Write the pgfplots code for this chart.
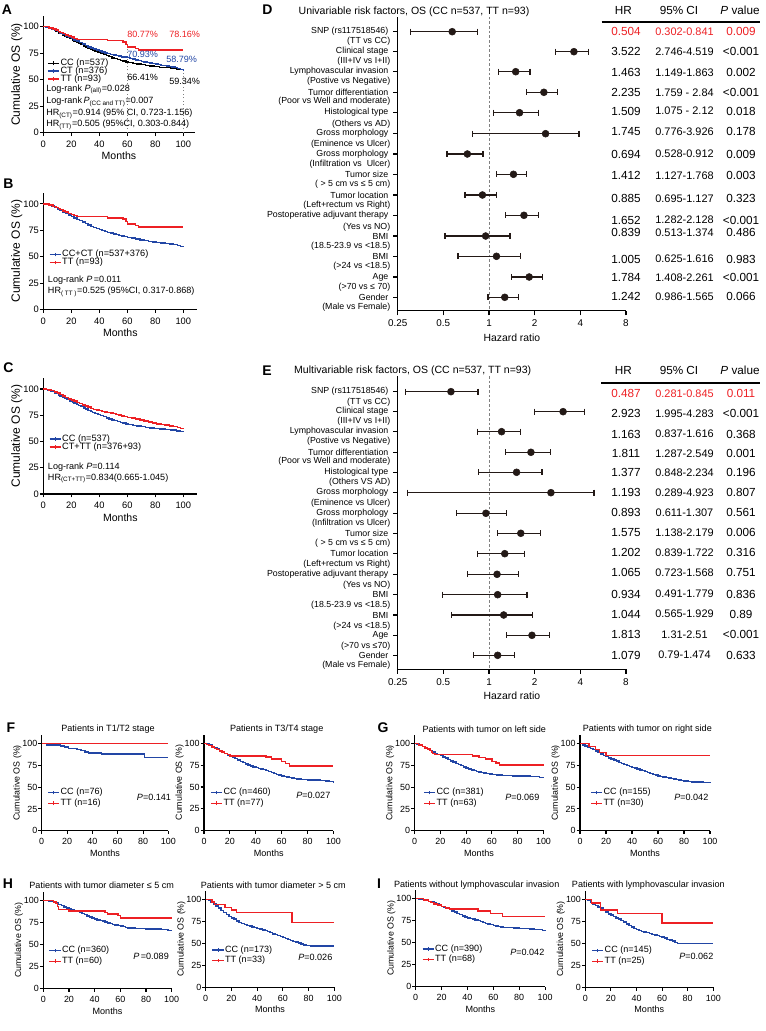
\documentclass[border=0pt]{standalone}
\usepackage{fontspec}
\setmainfont{Liberation Sans}
\usepackage{pgfplots}
\pgfplotsset{compat=1.18}
\definecolor{kmred}{RGB}{237,32,36}
\definecolor{kmblue}{RGB}{34,70,165}
\definecolor{fblack}{RGB}{35,25,22}
\newcommand\fs[1]{\fontsize{#1}{#1}\selectfont}
\pgfplotsset{
 kmbase/.style={anchor=south west, scale only axis, clip=false,
  axis x line*=bottom, axis y line*=left, axis line style={line width=0.9pt,-},
  every tick/.style={black, line width=0.8pt}, tick align=outside, major tick length=2.5pt,
  xmin=0, ymin=0, xtick={0,20,40,60,80,100}, ytick={0,25,50,75,100},
  /pgf/number format/assume math mode=true,
  xlabel={Months}, ylabel={Cumulative OS (\%)}, xlabel near ticks, ylabel near ticks,
  xlabel style={inner sep=0pt}, ylabel style={inner sep=0pt},
  yticklabel style={inner xsep=0.6pt},
  legend cell align=left,
  legend style={draw=none, fill=none, inner sep=0pt, nodes={inner sep=0.4pt}},
  legend image code/.code={\draw[#1] (0cm,0cm) -- (0.3cm,0cm); \draw[#1, line width=0.5pt] (0.15cm,-1.4pt) -- (0.15cm,1.4pt);}},
 kmA/.style={kmbase, ticklabel style={font=\fs{7}}, xlabel style={font=\fs{7.9}}, ylabel style={font=\fs{9}}, legend style={font=\fs{6.9}, row sep=-1.3pt}},
 kmF/.style={kmbase, xmax=100, ymax=110, ticklabel style={font=\fs{6.7}}, xlabel style={font=\fs{6.8}}, ylabel style={font=\fs{6.6}}, legend style={font=\fs{6.8}, row sep=0.8pt}},
 cb/.style={kmblue, line width=1.1pt, const plot},
 cr/.style={kmred, line width=1.1pt, const plot},
 ck/.style={black, line width=1pt, const plot},
 forestax/.style={anchor=south west, scale only axis, clip=false,
  xmin=0.25, xmax=8, width=171.2pt,
  axis x line*=bottom, axis y line*=left, axis line style={line width=0.9pt,-},
  every tick/.style={black, line width=0.8pt}, tick align=outside, major tick length=3.5pt,
  xtick={0.25,0.5,1,2,4,8}, xticklabels={0.25,0.5,1,2,4,8}, xminorticks=false,
  xticklabel style={font=\fs{7.4}}, yticklabel style={font=\fs{6.6}},
  xlabel={Hazard ratio}, xlabel near ticks, xlabel style={font=\fs{7.8}, inner sep=0pt, yshift=-1.3pt}},
 cistyle/.style={fblack, line width=0.9pt, mark=|, mark size=2.3pt, unbounded coords=jump, mark options={solid, line width=0.9pt}},
 ptstyle/.style={fblack, only marks, mark=*, mark size=2.6pt},
 refstyle/.style={gray, line width=0.7pt, dash pattern=on 2pt off 1.5pt},
}
\begin{document}
\begin{tikzpicture}[x=0.75pt,y=-0.75pt]
\path[use as bounding box] (0,0) rectangle (766,1031);
\coordinate (pA) at (43.3,132.7);
\coordinate (pB) at (43.3,309.5);
\coordinate (pC) at (43.3,494);
\coordinate (pD) at (397.7,310.7);
\coordinate (pE) at (397.7,669.3);
\coordinate (pF1) at (41.7,830.7);
\coordinate (pF2) at (204,830.5);
\coordinate (pG1) at (414.5,830.7);
\coordinate (pG2) at (580,830.7);
\coordinate (pH1) at (43.3,988.5);
\coordinate (pH2) at (205.7,987.3);
\coordinate (pI1) at (415.7,986.7);
\coordinate (pI2) at (585.3,987.3);

% ---------------- A
\begin{axis}[kmA, at={(pA)}, width=113.4pt, height=87.45pt, xmax=108, ymax=110,
  legend style={at={(0.024,0.64)}, anchor=north west}]
\addplot[gray, dotted, line width=0.6pt, forget plot] coordinates {(60,0) (60,80)};
\addplot[gray, dotted, line width=0.6pt, forget plot] coordinates {(100,0) (100,62)};
\addplot[ck] coordinates {(0,100) (2,99.6) (3,99) (5,98.2) (6,97.6) (8,96.3) (9,95.5) (11,94.2) (12,93.4) (14,92) (15,91) (17,89.8) (19,88.6) (21,87.6) (22,86.6) (24,85.5) (25,84.4) (27,83.2) (29,81.8) (30,80.8) (32,79.6) (34,78.4) (35,77.6) (37,76.6) (39,75.6) (41,74.6) (43,73.6) (45,72.6) (47,71.6) (49,70.6) (51,69.8) (53,69) (55,68.3) (57,67.5) (59,66.8) (61,66.2) (64,65.5) (67,64.8) (70,64.1) (73,63.5) (76,62.8) (79,62.3) (83,61.8) (87,61.3) (91,60.8) (95,60.2) (98,59.6) (100,59.3)};
\addlegendentry{CC (n=537)}
\addplot[cb] coordinates {(0,100) (2,99.7) (4,99) (6,98) (8,96.8) (10,95.4) (12,94) (14,92.6) (16,91.2) (18,90) (20,88.8) (22,87.6) (24,86.4) (26,85) (28,83.6) (30,82.3) (32,81) (34,79.8) (36,78.8) (38,77.8) (40,76.9) (42,76) (44,75.3) (46,74.6) (48,74) (50,73.4) (52,72.8) (54,72.2) (56,71.6) (58,71.2) (60,70.9) (62,70.2) (64,69.5) (66,68.8) (68,68) (70,67.4) (72,66.8) (74,66.2) (76,65.6) (78,65.1) (80,64.6) (82,64.1) (84,63.6) (86,63.2) (88,62.8) (90,62.4) (92,62) (94,61.4) (96,60.6) (98,59.6) (100,58.8)};
\addlegendentry{CT (n=376)}
\addplot[cr] coordinates {(0,100) (4,98.9) (7,97.8) (9,96.7) (11,95.6) (12,94.5) (14,93.4) (16,92.3) (18,91.2) (20,90.1) (22,89) (24,87.9) (46,86.8) (57,85.6) (59,83.2) (60,80.8) (66,79.5) (68,78.2) (100,78.2)};
\addlegendentry{TT (n=93)}
\end{axis}

% ---------------- B
\begin{axis}[kmA, at={(pB)}, width=115.5pt, height=87.4pt, xmax=110, ymax=110.4,
  legend style={at={(0.034,0.515)}, anchor=north west}]
\addplot[cb] coordinates {(0,100) (2,99.6) (4,98.9) (6,97.9) (8,96.6) (10,95.2) (12,93.8) (14,92.3) (16,90.9) (18,89.5) (20,88.1) (22,86.8) (24,85.5) (26,84.2) (28,82.8) (30,81.4) (32,80.1) (34,78.8) (36,77.7) (38,76.6) (40,75.6) (42,74.7) (44,73.9) (46,73.1) (48,72.4) (50,71.7) (52,71) (54,70.3) (56,69.6) (58,69) (60,68.4) (63,67.6) (66,66.8) (69,66) (72,65.2) (75,64.5) (78,63.9) (81,63.3) (84,62.8) (87,62.3) (90,61.9) (93,61.4) (96,60.5) (98,59.7) (100,58.9)};
\addlegendentry{CC+CT (n=537+376)}
\addplot[cr] coordinates {(0,100) (4,98.9) (7,97.8) (9,96.7) (11,95.6) (12,94.5) (14,93.4) (16,92.3) (18,91.2) (20,90.1) (22,89) (24,87.9) (46,86.8) (57,85.6) (59,83.2) (60,80.8) (66,79.5) (68,78.2) (100,78.2)};
\addlegendentry{TT (n=93)}
\end{axis}

% ---------------- C
\begin{axis}[kmA, at={(pC)}, width=115.5pt, height=87pt, xmax=110, ymax=110.5,
  legend style={at={(0.034,0.517)}, anchor=north west}]
\addplot[cb] coordinates {(0,100) (2,99.6) (3,99) (5,98.2) (6,97.6) (8,96.3) (9,95.5) (11,94.2) (12,93.4) (14,92) (15,91) (17,89.8) (19,88.6) (21,87.6) (22,86.6) (24,85.5) (25,84.4) (27,83.2) (29,81.8) (30,80.8) (32,79.6) (34,78.4) (35,77.6) (37,76.6) (39,75.6) (41,74.6) (43,73.6) (45,72.6) (47,71.6) (49,70.6) (51,69.8) (53,69) (55,68.3) (57,67.5) (59,66.8) (61,66.2) (64,65.5) (67,64.8) (70,64.1) (73,63.5) (76,62.8) (79,62.3) (83,61.8) (87,61.3) (91,60.8) (95,60.2) (98,59.6) (100,59.3)};
\addlegendentry{CC (n=537)}
\addplot[cr] coordinates {(0,100) (2,99.7) (4,99.2) (6,98.4) (8,97.3) (10,96) (12,94.6) (14,93.2) (16,91.9) (18,90.7) (20,89.6) (22,88.4) (24,87.3) (26,86.1) (28,84.9) (30,83.8) (32,82.7) (34,81.6) (36,80.7) (38,80) (40,79.4) (42,78.8) (44,78.3) (46,77.8) (48,77.2) (50,76.6) (52,75.9) (54,75.2) (56,74.5) (58,73.8) (60,73.1) (63,72.2) (66,71.3) (69,70.4) (72,69.5) (75,68.6) (78,67.7) (81,66.9) (84,66.2) (87,65.6) (90,65) (93,64.5) (96,63.6) (98,62.6) (100,61.8)};
\addlegendentry{CT+TT (n=376+93)}
\end{axis}

% ---------------- D forest
\begin{axis}[forestax, xmode=log, log basis x=2, at={(pD)}, height=220.5pt, ymin=-310.7, ymax=-16.7,
  ytick={-31.7,-51.7,-71.7,-92.3,-112.7,-133.7,-154,-174.3,-195,-215.3,-236,-256.3,-277,-297.3},
  yticklabels={{SNP (rs117518546)},{Clinical stage},{Lymphovascular invasion},{Tumor differentiation},{Histological type},{Gross morphology},{Gross morphology},{Tumor size},{Tumor location},{Postoperative adjuvant therapy},{BMI},{BMI},{Age},{Gender}}]
\addplot[refstyle] coordinates {(1,-16.7) (1,-310.7)};
\addplot[cistyle] coordinates {(0.302,-31.7) (0.841,-31.7) (1,nan) (2.746,-51.7) (4.519,-51.7) (1,nan) (1.149,-71.7) (1.863,-71.7) (1,nan) (1.759,-92.3) (2.84,-92.3) (1,nan) (1.075,-112.7) (2.12,-112.7) (1,nan) (0.776,-133.7) (3.926,-133.7) (1,nan) (0.528,-154) (0.912,-154) (1,nan) (1.127,-174.3) (1.768,-174.3) (1,nan) (0.695,-195) (1.127,-195) (1,nan) (1.282,-215.3) (2.128,-215.3) (1,nan) (0.513,-236) (1.374,-236) (1,nan) (0.625,-256.3) (1.616,-256.3) (1,nan) (1.408,-277) (2.261,-277) (1,nan) (0.986,-297.3) (1.565,-297.3)};
\addplot[ptstyle] coordinates {(0.572,-31.7) (3.63,-51.7) (1.50,-71.7) (2.30,-92.3) (1.59,-112.7) (2.36,-133.7) (0.72,-154) (1.45,-174.3) (0.905,-195) (1.70,-215.3) (0.95,-236) (1.12,-256.3) (1.84,-277) (1.27,-297.3)};
\end{axis}

% ---------------- E forest
\begin{axis}[forestax, xmode=log, log basis x=2, at={(pE)}, height=220pt, ymin=-669.3, ymax=-376,
  ytick={-391.7,-411.7,-431.7,-452.3,-472.3,-492.7,-513.3,-533.3,-553.7,-574.3,-594.7,-615,-635.3,-655.3},
  yticklabels={{SNP (rs117518546)},{Clinical stage},{Lymphovascular invasion},{Tumor differentiation},{Histological type},{Gross morphology},{Gross morphology},{Tumor size},{Tumor location},{Postoperative adjuvant therapy},{BMI},{BMI},{Age},{Gender}}]
\addplot[refstyle] coordinates {(1,-376) (1,-669.3)};
\addplot[cistyle] coordinates {(0.281,-391.7) (0.845,-391.7) (1,nan) (1.995,-411.7) (4.283,-411.7) (1,nan) (0.837,-431.7) (1.616,-431.7) (1,nan) (1.287,-452.3) (2.549,-452.3) (1,nan) (0.848,-472.3) (2.234,-472.3) (1,nan) (0.289,-492.7) (4.923,-492.7) (1,nan) (0.611,-513.3) (1.307,-513.3) (1,nan) (1.138,-533.3) (2.179,-533.3) (1,nan) (0.839,-553.7) (1.722,-553.7) (1,nan) (0.723,-574.3) (1.568,-574.3) (1,nan) (0.491,-594.7) (1.779,-594.7) (1,nan) (0.565,-615) (1.929,-615) (1,nan) (1.31,-635.3) (2.51,-635.3) (1,nan) (0.79,-655.3) (1.474,-655.3)};
\addplot[ptstyle] coordinates {(0.561,-391.7) (3.08,-411.7) (1.21,-431.7) (1.89,-452.3) (1.52,-472.3) (2.56,-492.7) (0.954,-513.3) (1.62,-533.3) (1.27,-553.7) (1.13,-574.3) (1.14,-594.7) (1.25,-615) (1.92,-635.3) (1.14,-655.3)};
\end{axis}

% ---------------- F1
\begin{axis}[kmF, at={(pF1)}, width=95pt, height=71.8pt,
  legend style={at={(0.042,0.451)}, anchor=north west}]
\addplot[cb] coordinates {(0,100) (4,98.7) (15,97.4) (18,96) (21,94.7) (28,93.4) (31,92) (34,90.6) (37,89.4) (47,88.2) (81,84.3) (100,84.3)};
\addlegendentry{CC (n=76)}
\addplot[cr] coordinates {(0,100) (100,100)};
\addlegendentry{TT (n=16)}
\end{axis}

% ---------------- F2
\begin{axis}[kmF, at={(pF2)}, width=97.1pt, height=71.8pt,
  legend style={at={(0.046,0.449)}, anchor=north west}]
\addplot[cb] coordinates {(0,100) (2,99.2) (4,98) (6,96.6) (8,95) (10,93.4) (12,91.6) (14,90) (16,88.5) (18,87) (20,85.6) (22,84.2) (24,82.6) (26,81) (28,79.4) (30,78) (32,76.6) (34,75.3) (36,74.2) (38,73.2) (40,72.3) (42,71.5) (44,70.8) (46,70) (48,69) (50,67.8) (52,66.6) (54,65.5) (56,64.5) (58,63.6) (60,62.8) (62,62) (64,61.3) (66,60.7) (68,60.2) (70,59.6) (72,59) (75,58.4) (80,58) (85,57.8) (90,57.5) (94,57) (97,56.3) (100,55.5)};
\addlegendentry{CC (n=460)}
\addplot[cr] coordinates {(0,100) (2,99) (4,97.5) (6,96) (8,94.5) (10,93) (12,91.5) (14,90) (16,88.6) (18,87.2) (20,85.7) (48,84.4) (52,82) (60,79.5) (63,77) (66,74) (100,74)};
\addlegendentry{TT (n=77)}
\end{axis}

% ---------------- G1
\begin{axis}[kmF, at={(pG1)}, width=96.75pt, height=71.8pt,
  legend style={at={(0.066,0.451)}, anchor=north west}]
\addplot[cb] coordinates {(0,100) (2,99.5) (4,98.2) (6,96.8) (8,95.2) (10,93.6) (12,92) (14,90.5) (16,89) (18,87.6) (20,86.2) (22,84.8) (24,83.3) (26,81.8) (28,80.3) (30,78.8) (32,77.4) (34,76) (36,74.7) (38,73.4) (40,72.2) (42,71) (44,70) (46,69.1) (48,68.3) (50,67.6) (52,66.9) (54,66.3) (56,65.7) (58,65.1) (60,64.6) (64,64.1) (68,63.7) (72,63.4) (76,63.1) (80,62.9) (85,62.6) (90,62.3) (94,62) (97,61.3) (100,60.5)};
\addlegendentry{CC (n=381)}
\addplot[cr] coordinates {(0,100) (3,98.4) (6,96.8) (8,95.2) (10,93.7) (12,92.1) (13,90.5) (14,88.9) (16,87.3) (45,85.7) (50,84.1) (55,82.5) (60,79.3) (63,77.7) (66,75.3) (100,75.3)};
\addlegendentry{TT (n=63)}
\end{axis}

% ---------------- G2
\begin{axis}[kmF, at={(pG2)}, width=97.5pt, height=71.8pt,
  legend style={at={(0.077,0.451)}, anchor=north west}]
\addplot[cb] coordinates {(0,100) (2,98.7) (4,97.4) (6,96) (8,94.6) (10,93.2) (12,91.6) (14,90) (16,88.2) (18,86.6) (20,85) (22,83.8) (24,82.6) (26,81.4) (28,80) (30,78.6) (32,77.2) (34,76) (36,74.8) (38,73.8) (40,72.8) (42,71.8) (44,70.8) (46,70) (48,69) (50,67.9) (52,66.8) (54,65.8) (56,64.8) (58,63.9) (60,63) (62,62.2) (64,61.6) (66,61) (68,60.5) (70,60) (72,59.5) (74,59) (76,58.3) (78,57.6) (80,57) (83,56.5) (86,56.1) (90,55.8) (95,55.6) (100,55.5)};
\addlegendentry{CC (n=155)}
\addplot[cr] coordinates {(0,100) (7,96.7) (12,93.3) (15,90) (20,86.7) (100,86.7)};
\addlegendentry{TT (n=30)}
\end{axis}

% ---------------- H1
\begin{axis}[kmF, at={(pH1)}, width=96.3pt, height=72.6pt,
  legend style={at={(0.04,0.444)}, anchor=north west}]
\addplot[cb] coordinates {(0,100) (4,99.6) (6,99) (8,98.2) (10,97) (12,95.6) (14,94.2) (16,92.8) (18,91.5) (20,90.5) (22,89.8) (24,88.8) (26,87.8) (28,86.6) (30,85.4) (32,84) (34,82.6) (36,81.2) (38,80) (40,79) (42,78) (44,77.4) (46,76.6) (48,75.6) (50,74.6) (52,73.6) (54,72.8) (56,72.2) (58,71.6) (60,71) (62,70.3) (64,69.6) (66,69) (68,68.6) (72,68.3) (76,68) (80,67.8) (84,67.6) (88,67.4) (92,67.2) (95,66.8) (97,66) (100,65)};
\addlegendentry{CC (n=360)}
\addplot[cr] coordinates {(0,100) (8,98.3) (10,96.6) (11,93.2) (12,89.8) (20,88.1) (48,86.4) (50,84.7) (58,83) (60,80) (100,80)};
\addlegendentry{TT (n=60)}
\end{axis}

% ---------------- H2
\begin{axis}[kmF, at={(pH2)}, width=96.45pt, height=72.6pt,
  legend style={at={(0.045,0.439)}, anchor=north west}]
\addplot[cb] coordinates {(0,100) (2,98.5) (4,96.8) (6,94.8) (8,92.5) (10,90) (12,87.5) (14,85) (16,82.5) (18,80.5) (20,79) (22,77.5) (24,75.5) (26,73.8) (28,72.4) (30,71.3) (32,70.4) (34,69.6) (36,68.8) (38,67.9) (40,67) (42,66.1) (44,65.3) (46,64.3) (48,63.2) (50,62) (52,60.8) (54,59.8) (56,58.8) (58,57.8) (60,56.7) (62,55.5) (64,54.2) (66,53) (68,52.2) (70,51.3) (72,50.3) (74,49.2) (76,48.3) (78,47.6) (82,47) (86,46.8) (100,46.8)};
\addlegendentry{CC (n=173)}
\addplot[cr] coordinates {(0,100) (5,97) (7,93.9) (15,90.9) (20,87.9) (24,84.8) (67,73.4) (100,73.4)};
\addlegendentry{TT (n=33)}
\end{axis}

% ---------------- I1
\begin{axis}[kmF, at={(pI1)}, width=97pt, height=72.6pt,
  legend style={at={(0.045,0.443)}, anchor=north west}]
\addplot[cb] coordinates {(0,100) (2,99.7) (4,99.3) (6,98.7) (8,97.9) (10,97) (12,96) (14,94.9) (16,93.8) (18,92.6) (20,91.4) (22,90.1) (24,88.8) (26,87.5) (28,86.1) (30,84.7) (32,83.3) (34,81.9) (36,80.5) (38,79.2) (40,78.1) (42,77.4) (44,76.8) (46,76) (48,75) (50,74) (52,73) (54,72) (56,71.2) (58,70.4) (60,69.6) (62,69) (64,68.4) (66,67.9) (68,67.5) (72,67) (76,66.6) (80,66.3) (84,66) (88,65.7) (92,65.3) (95,64.8) (98,64) (100,63.2)};
\addlegendentry{CC (n=390)}
\addplot[cr] coordinates {(0,100) (6,98.5) (10,97) (12,95.6) (14,94.1) (17,92.6) (20,91.2) (23,89.7) (26,88.2) (48,85.8) (58,83) (67,80) (100,80)};
\addlegendentry{TT (n=68)}
\end{axis}

% ---------------- I2
\begin{axis}[kmF, at={(pI2)}, width=96pt, height=72.6pt,
  legend style={at={(0.045,0.432)}, anchor=north west}]
\addplot[cb] coordinates {(0,100) (2,98.6) (4,96.6) (6,94.5) (8,93) (10,91.5) (12,90) (14,87.8) (16,85.5) (18,83.5) (20,82) (22,80.5) (24,79) (26,77.5) (28,76) (30,74.2) (32,72.2) (34,70.5) (36,68.8) (38,67) (40,65.6) (42,64.4) (44,63.5) (46,62.8) (48,62) (50,61) (52,60.2) (54,59.5) (56,58.8) (58,58) (60,57) (62,55.8) (64,54.6) (66,53.6) (68,52.4) (70,51) (72,49.6) (100,49.6)};
\addlegendentry{CC (n=145)}
\addplot[cr] coordinates {(0,100) (5,96) (12,88) (25,84) (60,73.3) (100,73.3)};
\addlegendentry{TT (n=25)}
\end{axis}

% ---------------- texts
\begin{scope}[every node/.style={inner sep=0pt}]
\foreach \x/\y/\t in {7/10/A, 8.5/184/B, 8.5/368/C, 267.5/10/D, 267/370.5/E, 11/728/F, 383/728/G, 8/884/H, 379/884/I}
  \node[font=\bfseries\fs{10.5}] at (\x,\y) {\t};
% A annotations
\node[anchor=west, font=\fs{6.8}, text=kmred] at (127,34) {80.77\%};
\node[anchor=west, font=\fs{6.8}, text=kmred] at (169,34) {78.16\%};
\node[anchor=west, font=\fs{6.8}, text=kmblue] at (127,54) {70.93\%};
\node[anchor=west, font=\fs{6.8}, text=kmblue] at (166,59) {58.79\%};
\node[anchor=west, font=\fs{6.8}] at (127,77) {66.41\%};
\node[anchor=west, font=\fs{6.8}] at (169,81) {59.34\%};
\node[anchor=west, font=\fs{6.8}] at (46,89.5) {Log-rank \textit{P}\textsubscript{(all)}=0.028};
\node[anchor=west, font=\fs{6.8}] at (46,102) {Log-rank\,\textit{P}\textsubscript{(CC and TT)}=0.007};
\node[anchor=west, font=\fs{6.8}] at (46,114) {HR\textsubscript{(CT)}=0.914 (95\% CI, 0.723-1.156)};
\node[anchor=west, font=\fs{6.8}] at (46,125) {HR\textsubscript{(TT)}=0.505 (95\%CI, 0.303-0.844)};
% B
\node[anchor=west, font=\fs{6.8}] at (47.7,280) {Log-rank \textit{P}\,=0.011};
\node[anchor=west, font=\fs{6.8}] at (47.7,291.7) {HR\textsubscript{( TT )}=0.525 (95\%CI, 0.317-0.868)};
% C
\node[anchor=west, font=\fs{6.8}] at (47.7,466.7) {Log-rank \textit{P}=0.114};
\node[anchor=west, font=\fs{6.8}] at (47.7,478.5) {HR\textsubscript{(CT+TT)}=0.834(0.665-1.045)};
% D/E titles
\node[font=\fs{7.9}] at (414,12) {Univariable risk factors, OS (CC n=537, TT n=93)};
\node[font=\fs{7.9}] at (412.7,371) {Multivariable risk factors, OS (CC n=537, TT n=93)};
% forest second lines
\foreach \y/\t in {41.7/{(TT vs CC)}, 61.3/{(III+IV vs I+II)}, 81/{(Postive vs Negative)}, 101.7/{(Poor vs Well and moderate)}, 124/{(Others vs AD)}, 144/{(Eminence vs Ulcer)}, 164.7/{(Infiltration vs\ \ Ulcer)}, 184.3/{( > 5 cm vs ≤ 5 cm)}, 205.7/{(Left+rectum vs Right)}, 227.5/{(Yes vs NO)}, 246/{(18.5-23.9 vs <18.5)}, 266.7/{(>24 vs <18.5)}, 287.3/{(>70 vs ≤ 70)}, 307.3/{(Male vs Female)},
 402.3/{(TT vs CC)}, 421.7/{(III+IV vs I+II)}, 441.7/{(Postive vs Negative)}, 461.7/{(Poor vs Well and moderate)}, 482.7/{(Others VS AD)}, 503.3/{(Eminence vs Ulcer)}, 523.3/{(Infiltration vs Ulcer)}, 543.3/{( > 5 cm vs ≤ 5 cm)}, 564/{(Left+rectum vs Right)}, 585.7/{(Yes vs NO)}, 605/{(18.5-23.9 vs <18.5)}, 626.7/{(>24 vs <18.5)}, 646/{(>70 vs ≤70)}, 665.7/{(Male vs Female)}}
  \node[anchor=east, font=\fs{6.6}] at (390.5,\y) {\t};
% tables headers
\node[font=\fs{8.8}] at (623.3,10) {HR};
\node[font=\fs{8.8}] at (679,10) {95\% CI};
\node[font=\fs{8.8}] at (740,10) {\textit{P} value};
\draw[line width=1.4pt] (601.7,22.3) -- (760,22.3);
\node[font=\fs{8.8}] at (623.3,370) {HR};
\node[font=\fs{8.8}] at (679,370) {95\% CI};
\node[font=\fs{8.8}] at (740,370) {\textit{P} value};
\draw[line width=1.4pt] (601,383.3) -- (760,383.3);
% D table
\node[font=\fs{8.8}, text=kmred] at (626,31.7) {0.504};
\node[font=\fs{8.2}, text=kmred] at (684.5,31.7) {0.302-0.841};
\node[font=\fs{8.8}, text=kmred] at (741,31.7) {0.009};
\foreach \y/\h/\c/\p in {51.7/3.522/2.746-4.519/<0.001, 72.7/1.463/1.149-1.863/0.002, 92.7/2.235/1.759 - 2.84/<0.001, 111/1.509/1.075 - 2.12/0.018, 131.7/1.745/0.776-3.926/0.178, 154/0.694/0.528-0.912/0.009, 175.7/1.412/1.127-1.768/0.003, 198.3/0.885/0.695-1.127/0.323, 220/1.652/1.282-2.128/<0.001, 232.3/0.839/0.513-1.374/0.486, 259/1.005/0.625-1.616/0.983, 277.3/1.784/1.408-2.261/<0.001, 296.7/1.242/0.986-1.565/0.066,
 413.3/2.923/1.995-4.283/<0.001, 434/1.163/0.837-1.616/0.368, 453.3/1.811/1.287-2.549/0.001, 472.7/1.377/0.848-2.234/0.196, 492.3/1.193/0.289-4.923/0.807, 512.3/0.893/0.611-1.307/0.561, 532.3/1.575/1.138-2.179/0.006, 552.7/1.202/0.839-1.722/0.316, 572.7/1.065/0.723-1.568/0.751, 594/0.934/0.491-1.779/0.836, 614/1.044/0.565-1.929/0.89, 634.3/1.813/1.31-2.51/<0.001, 655/1.079/0.79-1.474/0.633}
{
  \node[font=\fs{8.8}] at (626,\y) {\h};
  \node[font=\fs{8.2}] at (684.5,\y) {\c};
  \node[font=\fs{8.8}] at (741,\y) {\p};
}
\node[font=\fs{8.8}, text=kmred] at (626,393.3) {0.487};
\node[font=\fs{8.2}, text=kmred] at (684.5,393.3) {0.281-0.845};
\node[font=\fs{8.8}, text=kmred] at (741,393.3) {0.011};
% F-I titles
\node[font=\fs{6.8}] at (108,729.3) {Patients in T1/T2 stage};
\node[font=\fs{6.8}] at (276.7,729.3) {Patients in T3/T4 stage};
\node[font=\fs{6.8}] at (484.3,729.3) {Patients with tumor on left side};
\node[font=\fs{6.8}] at (647.3,729.3) {Patients with tumor on right side};
\node[font=\fs{6.8}] at (101.7,885) {Patients with tumor diameter ≤ 5 cm};
\node[font=\fs{6.8}] at (273.3,885) {Patients with tumor diameter > 5 cm};
\node[font=\fs{6.8}] at (476.7,885) {Patients without lymphovascular invasion};
\node[font=\fs{6.8}] at (648.3,885) {Patients with lymphovascular invasion};
% P values
\node[anchor=west, font=\fs{6.8}] at (136.7,797.3) {\textit{P}=0.141};
\node[anchor=west, font=\fs{6.8}] at (296,795) {\textit{P}=0.027};
\node[anchor=west, font=\fs{6.8}] at (505,797) {\textit{P}=0.069};
\node[anchor=west, font=\fs{6.8}] at (674,797) {\textit{P}=0.042};
\node[anchor=west, font=\fs{6.8}] at (133,956.7) {\textit{P}\,=0.089};
\node[anchor=west, font=\fs{6.8}] at (298,957.3) {\textit{P}=0.026};
\node[anchor=west, font=\fs{6.8}] at (510,952.7) {\textit{P}=0.042};
\node[anchor=west, font=\fs{6.8}] at (679,956) {\textit{P}=0.062};
\end{scope}
\end{tikzpicture}
\end{document}
